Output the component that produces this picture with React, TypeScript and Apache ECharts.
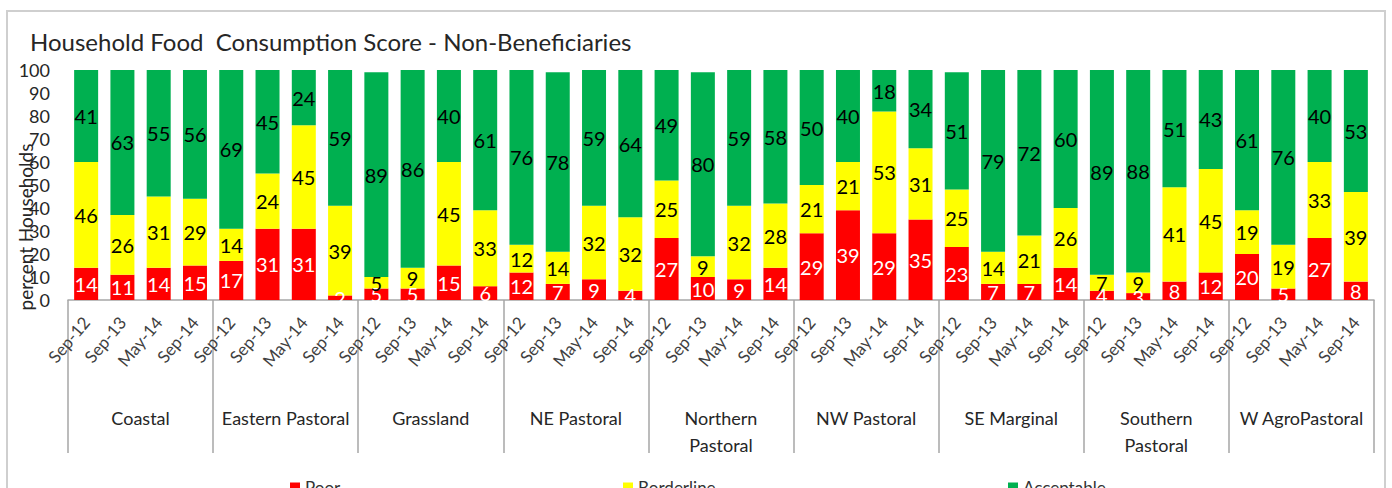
import React, { useEffect, useRef } from "react";
import * as echarts from "echarts";

const regions = [
  "Coastal",
  "Eastern Pastoral",
  "Grassland",
  "NE Pastoral",
  "Northern\nPastoral",
  "NW Pastoral",
  "SE Marginal",
  "Southern\nPastoral",
  "W AgroPastoral",
];
const rounds = ["Sep-12", "Sep-13", "May-14", "Sep-14"];

const poor = [
  14, 11, 14, 15,
  17, 31, 31, 2,
  5, 5, 15, 6,
  12, 7, 9, 4,
  27, 10, 9, 14,
  29, 39, 29, 35,
  23, 7, 7, 14,
  4, 3, 8, 12,
  20, 5, 27, 8,
];
const borderline = [
  46, 26, 31, 29,
  14, 24, 45, 39,
  5, 9, 45, 33,
  12, 14, 32, 32,
  25, 9, 32, 28,
  21, 21, 53, 31,
  25, 14, 21, 26,
  7, 9, 41, 45,
  19, 19, 33, 39,
];
const acceptable = [
  41, 63, 55, 56,
  69, 45, 24, 59,
  89, 86, 40, 61,
  76, 78, 59, 64,
  49, 80, 59, 58,
  50, 40, 18, 34,
  51, 79, 72, 60,
  89, 88, 51, 43,
  61, 76, 40, 53,
];
const yTicks = { min: 0, max: 100, interval: 10 };

const FONT = "Lato, 'Open Sans', sans-serif";

export default function App() {
  const ref = useRef<HTMLDivElement>(null);
  useEffect(() => {
    if (!ref.current) return;
    const chart = echarts.init(ref.current, undefined, { renderer: "svg" });
    const categories: string[] = [];
    regions.forEach(() => rounds.forEach((r) => categories.push(r)));
    const mkSeries = (name: string, data: number[], color: string, labelColor: string) => ({
      name,
      type: "bar",
      stack: "total",
      data,
      barWidth: 24,
      itemStyle: { color },
      label: {
        show: true,
        position: "inside",
        color: labelColor,
        fontSize: 20,
        fontFamily: FONT,
      },
    });
    const legendBase = {
      top: 474,
      itemWidth: 10,
      itemHeight: 10,
      icon: "rect",
      itemGap: 6,
      textStyle: { fontSize: 17, color: "#333", fontFamily: FONT },
    };
    chart.setOption({
      animation: false,
      backgroundColor: "#ffffff",
      textStyle: { fontFamily: FONT },
      title: {
        text: "Household Food  Consumption Score - Non-Beneficiaries",
        left: 25,
        top: 24,
        textStyle: { fontSize: 24, fontWeight: "normal", color: "#262626", fontFamily: FONT },
      },
      legend: [
        { ...legendBase, left: 285, data: ["Poor"] },
        { ...legendBase, left: 618, data: ["Borderline"] },
        { ...legendBase, left: 1003, data: ["Acceptable"] },
      ],
      grid: { left: 68, right: 18, top: 70, bottom: 188, containLabel: false },
      xAxis: [
        {
          type: "category",
          data: categories,
          position: "bottom",
          axisLine: { show: true, lineStyle: { color: "#a6a6a6", width: 1.5 } },
          axisTick: { show: false },
          axisLabel: {
            interval: 0,
            rotate: 50,
            margin: 19,
            fontSize: 17,
            color: "#404040",
            fontFamily: FONT,
          },
        },
        {
          type: "category",
          data: regions,
          position: "bottom",
          boundaryGap: true,
          axisLine: { show: false },
          axisTick: {
            show: true,
            interval: 0,
            length: 153,
            lineStyle: { color: "#a6a6a6", width: 1.5 },
          },
          axisLabel: {
            interval: 0,
            margin: 104,
            fontSize: 18,
            lineHeight: 27,
            color: "#262626",
            fontFamily: FONT,
          },
        },
      ],
      yAxis: {
        type: "value",
        min: yTicks.min,
        max: yTicks.max,
        interval: yTicks.interval,
        axisLine: { show: false },
        axisTick: { show: false },
        splitLine: { show: false },
        axisLabel: { fontSize: 18, color: "#262626", margin: 18, fontFamily: FONT },
      },
      graphic: [
        {
          type: "rect",
          shape: { x: 7, y: 11, width: 1378, height: 520 },
          style: { fill: "none", stroke: "#cfcfcf", lineWidth: 2 },
          silent: true,
          z: -1,
        },
        {
          type: "text",
          x: 25,
          y: 227,
          rotation: Math.PI / 2,
          style: {
            text: "percent Households",
            align: "center",
            verticalAlign: "middle",
            fontSize: 19,
            fill: "#262626",
            fontFamily: FONT,
          },
        },
      ],
      series: [
        mkSeries("Poor", poor, "#FF0000", "#ffffff"),
        mkSeries("Borderline", borderline, "#FFFF00", "#000000"),
        mkSeries("Acceptable", acceptable, "#00B050", "#000000"),
      ],
    });
    return () => chart.dispose();
  }, []);
  return (
    <div
      ref={ref}
      style={{ position: "fixed", left: 0, top: 0, width: 1392, height: 488 }}
    />
  );
}
